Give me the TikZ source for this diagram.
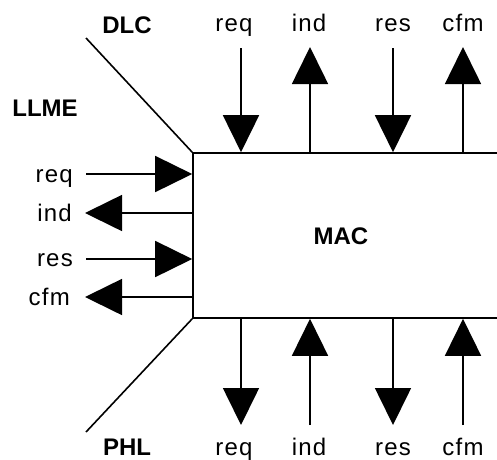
\documentclass[tikz,border=0pt]{standalone}
\usepackage{fontspec}
\setmainfont{Liberation Sans}[LetterSpace=5, BoldFeatures={LetterSpace=0}]
\usetikzlibrary{arrows.meta}

\begin{document}
\begin{tikzpicture}[x=1pt, y=-1pt, font=\fontsize{24pt}{28pt}\selectfont]
\tikzstyle{lbl}=[inner sep=0pt, anchor=base]
\tikzstyle{layer}=[inner sep=0pt, anchor=base, font=\fontsize{24pt}{28pt}\selectfont\bfseries]
\tikzstyle{sig}=[-{Triangle[length=37pt, width=36pt]}, line width=1.6pt]
\tikzstyle{edge}=[line width=1.6pt]
\useasboundingbox (0,0) rectangle (497,459);
% MAC box, open to the right
\node (mac) [draw, line width=1.6pt, minimum width=420pt, minimum height=165pt, inner sep=0pt] at (403,235.5) {};
\node (maclbl) [layer] at (341,244) {MAC};
% neighbouring layers
\node (dlc) [layer] at (127,33) {DLC};
\node (llme) [layer] at (45,116) {LLME};
\node (phl) [layer] at (127,455) {PHL};
\coordinate (dlcend) at (86,38);
\coordinate (phlend) at (86,432);
\draw[edge] (dlcend) -- (mac.north west);
\draw[edge] (mac.south west) -- (phlend);
% DLC primitives
\node (treq) [lbl] at (234,31) {req};
\node (tind) [lbl] at (309,31) {ind};
\node (tres) [lbl] at (393,31) {res};
\node (tcfm) [lbl] at (463,31) {cfm};
\coordinate (t1) at (241,48);
\coordinate (t2) at (310,47);
\coordinate (t3) at (393,48);
\coordinate (t4) at (463,47);
\draw[sig] (t1) -- (t1 |- mac.north);
\draw[sig] (t2 |- mac.north) -- (t2);
\draw[sig] (t3) -- (t3 |- mac.north);
\draw[sig] (t4 |- mac.north) -- (t4);
% PHL primitives
\node (breq) [lbl] at (234,455) {req};
\node (bind) [lbl] at (309,455) {ind};
\node (bres) [lbl] at (393,455) {res};
\node (bcfm) [lbl] at (463,455) {cfm};
\coordinate (b1) at (241,425);
\coordinate (b2) at (310,425);
\coordinate (b3) at (393,425);
\coordinate (b4) at (463,425);
\draw[sig] (b1 |- mac.south) -- (b1);
\draw[sig] (b2) -- (b2 |- mac.south);
\draw[sig] (b3 |- mac.south) -- (b3);
\draw[sig] (b4) -- (b4 |- mac.south);
% LLME primitives
\node (lreq) [lbl, anchor=base east] at (73,182) {req};
\node (lind) [lbl, anchor=base east] at (72,221) {ind};
\node (lres) [lbl, anchor=base east] at (73,266) {res};
\node (lcfm) [lbl, anchor=base east] at (70,305) {cfm};
\coordinate (l1) at (86,174);
\coordinate (l2) at (85,213);
\coordinate (l3) at (86,259);
\coordinate (l4) at (85,297);
\draw[sig] (l1) -- (l1 -| mac.west);
\draw[sig] (l2 -| mac.west) -- (l2);
\draw[sig] (l3) -- (l3 -| mac.west);
\draw[sig] (l4 -| mac.west) -- (l4);
\end{tikzpicture}
\end{document}
